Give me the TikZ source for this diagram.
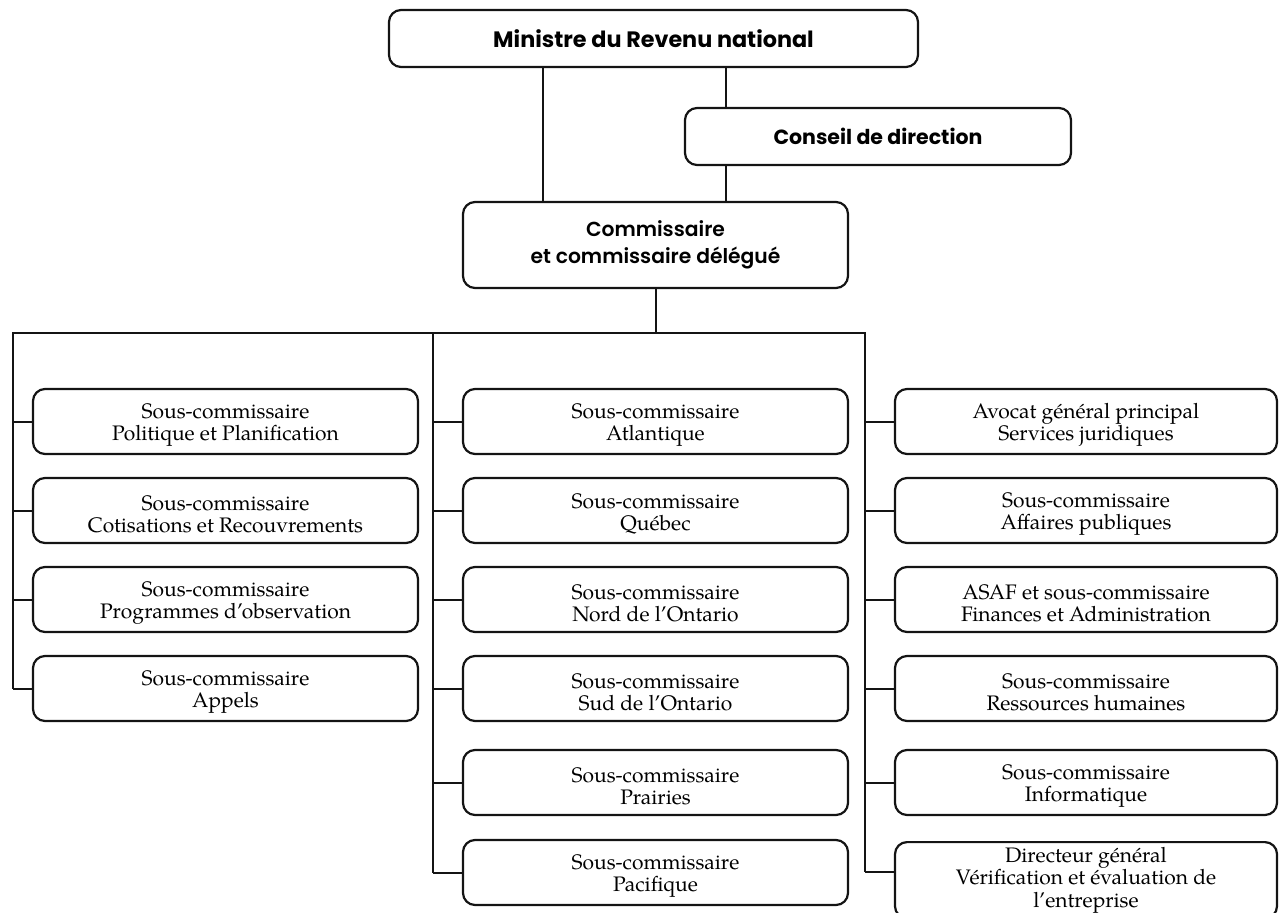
\documentclass[tikz,border=0pt]{standalone}
\usepackage{fontspec}
\newfontfamily\pal{texgyrepagella}[Extension=.otf,UprightFont=*-regular,BoldFont=*-bold]
\newfontfamily\gbold{Poppins Bold}
\newfontfamily\gsemi{Poppins SemiBold}
\newcommand\twoline[2]{\rule{0pt}{22pt}#1\\#2}
\begin{document}
\begin{tikzpicture}[x=1pt,y=-1pt,
  box/.style={draw=black!92, line width=2.2pt, rounded corners=12pt, align=center, inner sep=0pt},
  sub/.style={box, minimum width=385pt, minimum height=65pt, font=\pal\fontsize{21}{22.5}\selectfont},
  subr/.style={sub, minimum width=382pt},
  conn/.style={draw=black!92, line width=2pt},
  thinconn/.style={draw=black!92, line width=1.4pt}]
\useasboundingbox (0,0) rectangle (1280,913);
% top
\node[box, minimum width=529pt, minimum height=57pt, font=\gbold\fontsize{22.3}{24}\selectfont] (min) at (653.5,38.5) {Ministre du Revenu national};
\node[box, minimum width=386pt, minimum height=57pt, font=\gbold\fontsize{20.5}{22}\selectfont] (cons) at (878,136.5) {Conseil de direction};
\node[box, minimum width=385pt, minimum height=86pt, font=\gsemi\fontsize{20.3}{27}\selectfont] (comm) at (655.5,245) {Commissaire\\et commissaire délégué};
% left column
\node[sub] (l1) at (225.5,421.5) {\twoline{Sous-commissaire}{Politique et Planification}};
\node[sub] (l2) at (225.5,510.5) {\twoline{Sous-commissaire}{Cotisations et Recouvrements}};
\node[sub] (l3) at (225.5,599.5) {\twoline{Sous-commissaire}{Programmes d’observation}};
\node[sub] (l4) at (225.5,688.5) {\twoline{Sous-commissaire}{Appels}};
% middle column
\node[sub] (m1) at (655.5,421.5) {\twoline{Sous-commissaire}{Atlantique}};
\node[sub] (m2) at (655.5,510.5) {\twoline{Sous-commissaire}{Québec}};
\node[sub] (m3) at (655.5,599.5) {\twoline{Sous-commissaire}{Nord de l’Ontario}};
\node[sub] (m4) at (655.5,688.5) {\twoline{Sous-commissaire}{Sud de l’Ontario}};
\node[sub] (m5) at (655.5,782.5) {\twoline{Sous-commissaire}{Prairies}};
\node[sub] (m6) at (655.5,872.5) {\twoline{Sous-commissaire}{Pacifique}};
% right column
\node[subr] (r1) at (1086,421.5) {\twoline{Avocat général principal}{Services juridiques}};
\node[subr] (r2) at (1086,510.5) {\twoline{Sous-commissaire}{Affaires publiques}};
\node[subr] (r3) at (1086,599.5) {\twoline{ASAF et sous-commissaire}{Finances et Administration}};
\node[subr] (r4) at (1086,688.5) {\twoline{Sous-commissaire}{Ressources humaines}};
\node[subr] (r5) at (1086,782.5) {\twoline{Sous-commissaire}{Informatique}};
\node[subr, anchor=north, minimum height=0pt, inner ysep=5pt] (r6) at (1086,841) {Directeur général\\Vérification et évaluation de\\l’entreprise};
% top connectors
\coordinate (xa) at (543,0);
\coordinate (xb) at (726,0);
\draw[thinconn] (min.south -| xa) -- (comm.north -| xa);
\draw[thinconn] (min.south -| xb) -- (cons.north -| xb);
\draw[thinconn] (cons.south -| xb) -- (comm.north -| xb);
% buses
\coordinate (bL) at (13,333);
\coordinate (bM) at (433,333);
\coordinate (bR) at (865,333);
\coordinate (dj) at (865,872);
\draw[conn] (comm.south) -- (comm.south |- bM);
\draw[conn] (bL |- l4.west) -- (bL) -- (bR) -- (dj);
\draw[conn] (bM) -- (bM |- m6.west);
\foreach \n in {l1,l2,l3,l4} \draw[conn] (bL |- \n.west) -- (\n.west);
\foreach \n in {m1,m2,m3,m4,m5,m6} \draw[conn] (bM |- \n.west) -- (\n.west);
\foreach \n in {r1,r2,r3,r4,r5} \draw[conn] (bR |- \n.west) -- (\n.west);
\draw[conn] (dj) -- (dj -| r6.west);
\end{tikzpicture}
\end{document}
